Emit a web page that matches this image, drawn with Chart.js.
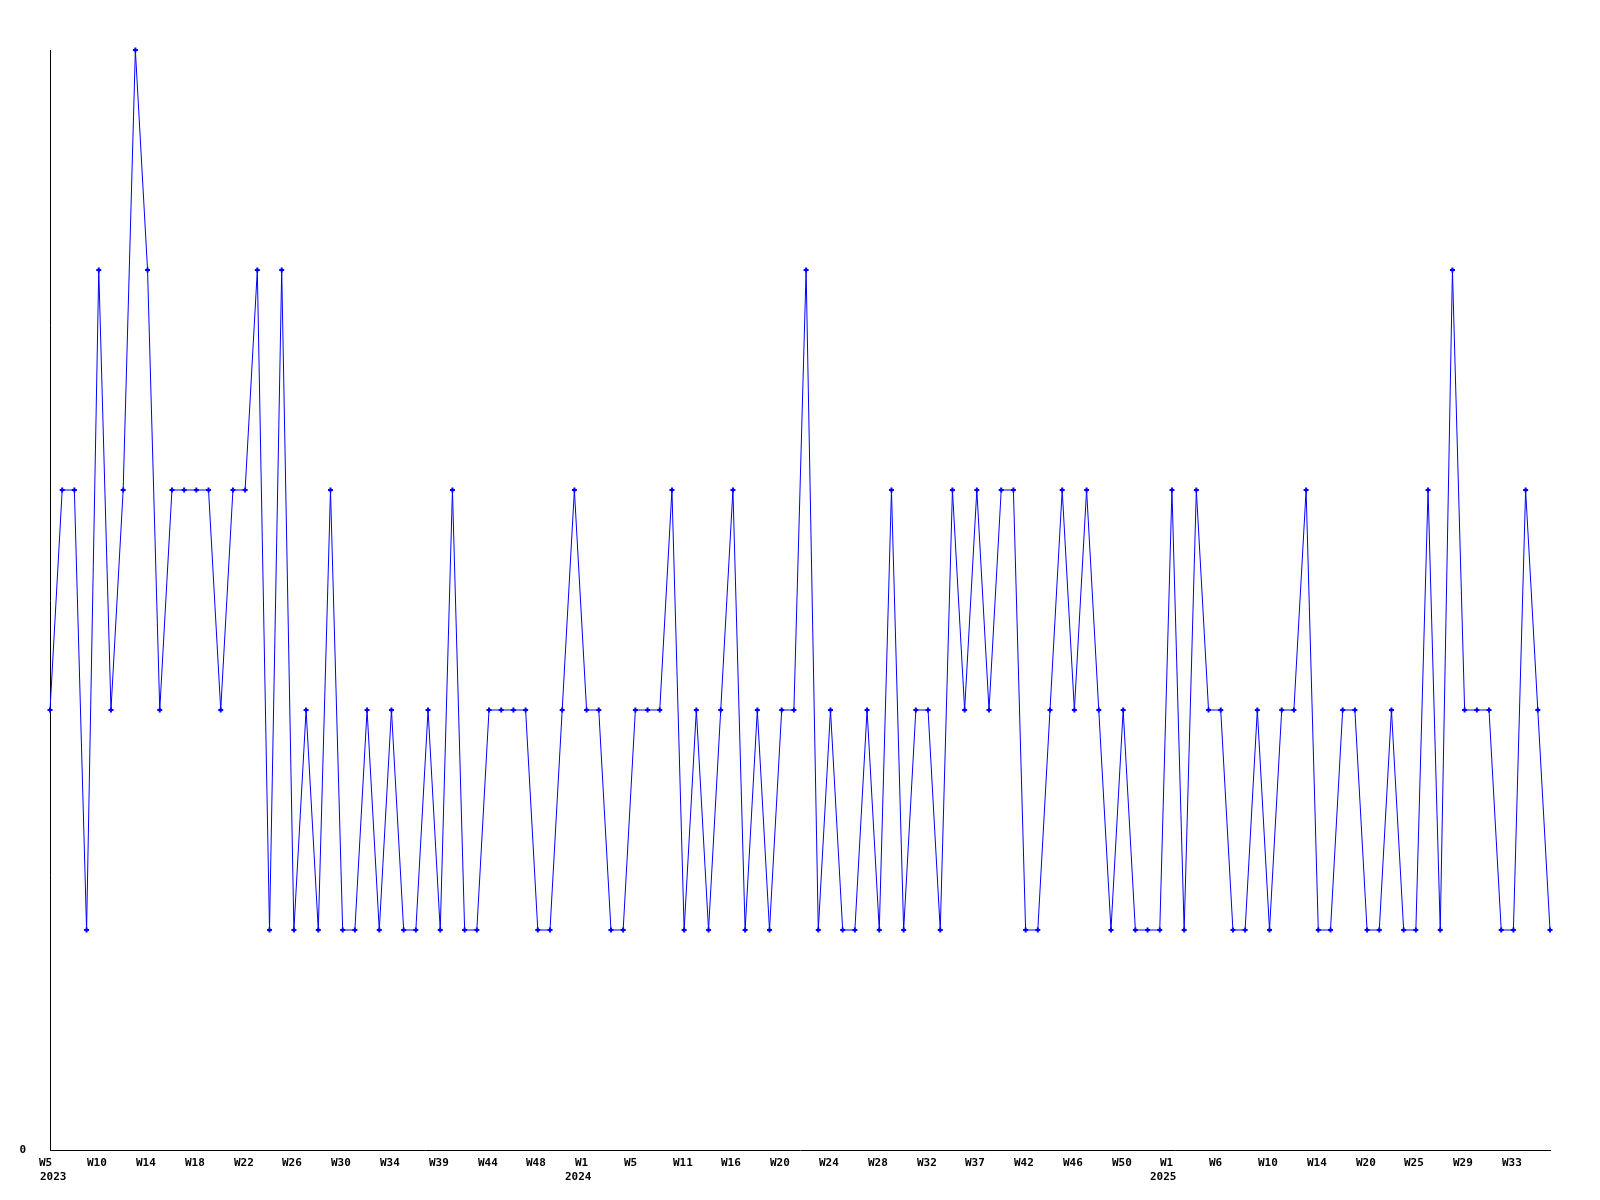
<!DOCTYPE html>
<html>
<head>
<meta charset="utf-8">
<title>Weekly count</title>
<script src="https://cdn.jsdelivr.net/npm/chart.js@4/dist/chart.umd.min.js"></script>
<style>
  html, body { margin: 0; padding: 0; background: #fff; }
  #wrap { width: 1600px; height: 1200px; }
</style>
</head>
<body>
<div id="wrap"><canvas id="weekChart" width="1600" height="1200"></canvas></div>
<script>
/* ---- Data ---- */
// week numbers that have data, per year (some weeks are missing)
const WEEKS_2023 = [5, 6, 7, 8, 10, 11, 12, 13, 14, 15, 16, 17, 18, 19, 20, 21, 22, 23, 24, 25,
                    26, 27, 28, 29, 30, 31, 32, 33, 34, 35, 36, 38, 39, 40, 41, 43, 44, 45, 46, 47,
                    48, 49, 50, 52];
const WEEKS_2024 = [1, 2, 3, 4, 5, 6, 8, 9, 11, 12, 14, 15, 16, 17, 18, 19, 20, 21, 22, 23,
                    24, 25, 26, 27, 28, 29, 30, 31, 32, 33, 35, 36, 37, 38, 39, 41, 42, 43, 44, 45,
                    46, 47, 48, 49, 50, 51, 52, 53];
const WEEKS_2025 = [1, 2, 4, 5, 6, 7, 8, 9, 10, 11, 12, 13, 14, 16, 17, 19, 20, 21, 22, 24,
                    25, 26, 27, 28, 29, 30, 31, 32, 33, 34, 35, 36];

const VALUES_2023 = [2, 3, 3, 1, 4, 2, 3, 5, 4, 2, 3, 3, 3, 3, 2, 3, 3, 4, 1, 4,
                     1, 2, 1, 3, 1, 1, 2, 1, 2, 1, 1, 2, 1, 3, 1, 1, 2, 2, 2, 2,
                     1, 1, 2, 3];
const VALUES_2024 = [2, 2, 1, 1, 2, 2, 2, 3, 1, 2, 1, 2, 3, 1, 2, 1, 2, 2, 4, 1,
                     2, 1, 1, 2, 1, 3, 1, 2, 2, 1, 3, 2, 3, 2, 3, 3, 1, 1, 2, 3,
                     2, 3, 2, 1, 2, 1, 1, 1];
const VALUES_2025 = [3, 1, 3, 2, 2, 1, 1, 2, 1, 2, 2, 3, 1, 1, 2, 2, 1, 1, 2, 1,
                     1, 3, 1, 4, 2, 2, 2, 1, 1, 3, 2, 1];

const Y_TICKS = [0];
const LABEL_EVERY = 4;

/* ---- Build categories ---- */
const CATEGORIES = [];
const VALUES = [];
[[2023, WEEKS_2023, VALUES_2023], [2024, WEEKS_2024, VALUES_2024], [2025, WEEKS_2025, VALUES_2025]]
  .forEach(([year, weeks, vals]) => {
    weeks.forEach((w, i) => {
      CATEGORIES.push({ year, week: w, first: i === 0 });
      VALUES.push(vals[i]);
    });
  });

const FONT_CSS = 'bold 11px "DejaVu Sans Mono", monospace';
const TICK_FONT = { family: '"DejaVu Sans Mono", monospace', size: 11, weight: 'bold' };

/* ---- X labels: week left-set a bit before the point, year under it ---- */
const xLabelPlugin = {
  id: 'xLabels',
  afterDraw(chart) {
    const xs = chart.scales.x;
    const ctx = chart.ctx;
    ctx.save();
    ctx.font = FONT_CSS;
    ctx.fillStyle = '#000';
    ctx.textAlign = 'left';
    ctx.textBaseline = 'alphabetic';
    CATEGORIES.forEach((c, i) => {
      if (i % LABEL_EVERY !== 0) return;
      const x = xs.getPixelForValue(i);
      ctx.fillText('W' + c.week, Math.round(x - 11.5), Math.round(xs.top + 16));
      if (c.first) {
        ctx.fillText(String(c.year), Math.round(Math.max(x - 21.5, xs.left - 10)), Math.round(xs.top + 30));
      }
    });
    ctx.restore();
  }
};

/* ---- Chart ---- */
new Chart(document.getElementById('weekChart').getContext('2d'), {
  type: 'line',
  data: {
    labels: CATEGORIES.map(c => c.year + '-W' + c.week),
    datasets: [{
      data: VALUES,
      borderColor: '#0000ff',
      borderWidth: 1,
      tension: 0,
      fill: false,
      clip: false,
      pointStyle: 'cross',
      pointRadius: 2.5,
      pointBorderWidth: 2,
      pointBorderColor: '#0000ff',
      pointBackgroundColor: '#0000ff'
    }]
  },
  options: {
    responsive: false,
    animation: false,
    devicePixelRatio: 1,
    layout: { padding: { top: 50, right: 50, left: 0, bottom: 0 } },
    plugins: { legend: { display: false }, tooltip: { enabled: false } },
    scales: {
      x: {
        offset: false,
        grid: { display: false, drawTicks: false },
        border: { display: true, color: '#000', width: 1 },
        ticks: { display: false, autoSkip: false },
        afterFit: s => { s.height = 50; }
      },
      y: {
        min: 0, max: 5,
        grid: { display: false, drawTicks: false },
        border: { display: true, color: '#000', width: 1 },
        afterBuildTicks: s => { s.ticks = Y_TICKS.map(v => ({ value: v })); },
        ticks: { color: '#000', font: TICK_FONT, padding: 24 },
        afterFit: s => { s.width = 50; }
      }
    }
  },
  plugins: [xLabelPlugin]
});
</script>
</body>
</html>
